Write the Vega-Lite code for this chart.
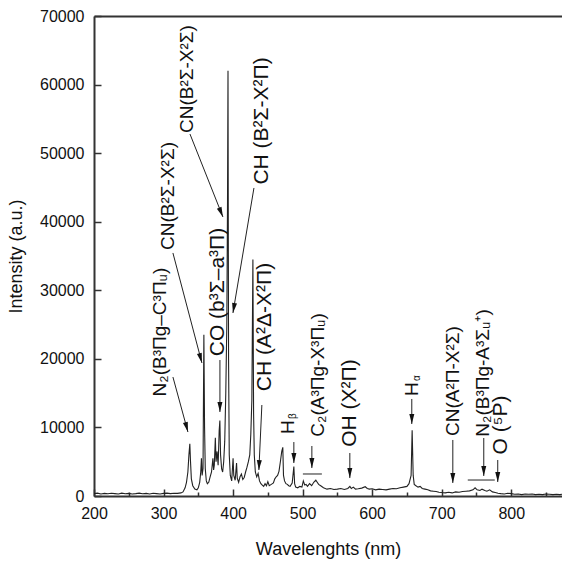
{
  "$schema": "https://vega.github.io/schema/vega-lite/v6.json",
  "autosize": "none",
  "width": 468,
  "height": 480,
  "padding": {"left": 94, "top": 16, "right": 0, "bottom": 72},
  "background": "white",
  "config": {
    "view": {"stroke": null},
    "font": "Liberation Sans",
    "axis": {"grid": false, "labelFont": "Liberation Sans", "titleFont": "Liberation Sans", "labelColor": "#111", "titleColor": "#111", "domainColor": "#333", "tickColor": "#333", "domainWidth": 2, "tickWidth": 1.5}
  },
  "datasets": {
    "spectrum": [
      {"wl":200,"I":350},{"wl":205,"I":420},{"wl":210,"I":300},{"wl":215,"I":380},{"wl":220,"I":320},{"wl":225,"I":400},{"wl":230,"I":350},{"wl":235,"I":300},{"wl":240,"I":420},{"wl":245,"I":330},{"wl":250,"I":380},{"wl":255,"I":300},{"wl":260,"I":350},{"wl":265,"I":420},{"wl":270,"I":330},{"wl":275,"I":380},{"wl":280,"I":300},{"wl":285,"I":400},{"wl":290,"I":350},{"wl":295,"I":300},{"wl":300,"I":380},{"wl":305,"I":420},{"wl":310,"I":350},{"wl":315,"I":400},{"wl":320,"I":380},{"wl":325,"I":450},{"wl":328,"I":600},{"wl":331,"I":1200},{"wl":333,"I":2000},{"wl":335,"I":3500},{"wl":336.5,"I":6000},{"wl":337.8,"I":7600},{"wl":338.8,"I":5000},{"wl":340,"I":2500},{"wl":342,"I":1500},{"wl":345,"I":1000},{"wl":348,"I":900},{"wl":350,"I":1200},{"wl":352,"I":2000},{"wl":353.5,"I":3500},{"wl":354.5,"I":5500},{"wl":355.5,"I":3000},{"wl":356.8,"I":4000},{"wl":358,"I":23500},{"wl":359,"I":10000},{"wl":360,"I":4000},{"wl":361.5,"I":2200},{"wl":363,"I":1800},{"wl":365,"I":2000},{"wl":367,"I":2800},{"wl":369,"I":3500},{"wl":371,"I":5500},{"wl":372,"I":3800},{"wl":373,"I":4500},{"wl":374.5,"I":8500},{"wl":375.5,"I":5000},{"wl":377,"I":6500},{"wl":378.5,"I":4500},{"wl":380,"I":9500},{"wl":381,"I":11000},{"wl":382,"I":6000},{"wl":383.5,"I":4000},{"wl":385,"I":3500},{"wl":386.5,"I":5000},{"wl":388,"I":8000},{"wl":389.5,"I":15000},{"wl":391,"I":25000},{"wl":392,"I":43000},{"wl":392.7,"I":62000},{"wl":393.5,"I":20000},{"wl":394.5,"I":6000},{"wl":396,"I":3000},{"wl":398,"I":2200},{"wl":400,"I":5500},{"wl":401,"I":3000},{"wl":403,"I":2300},{"wl":405,"I":4800},{"wl":406,"I":2600},{"wl":408,"I":2000},{"wl":410,"I":2800},{"wl":412,"I":3200},{"wl":414,"I":2400},{"wl":416,"I":2700},{"wl":418,"I":3500},{"wl":420,"I":4200},{"wl":422,"I":5000},{"wl":424,"I":6000},{"wl":425.5,"I":9000},{"wl":427,"I":14000},{"wl":428.5,"I":34500},{"wl":429.5,"I":12000},{"wl":430.5,"I":6000},{"wl":432,"I":3500},{"wl":434,"I":2800},{"wl":436,"I":3300},{"wl":438,"I":2200},{"wl":440,"I":1800},{"wl":442,"I":1600},{"wl":444,"I":1400},{"wl":446,"I":1800},{"wl":448,"I":1500},{"wl":450,"I":2100},{"wl":452,"I":1500},{"wl":455,"I":1700},{"wl":458,"I":1900},{"wl":460,"I":2500},{"wl":462,"I":2800},{"wl":464,"I":3000},{"wl":466,"I":3600},{"wl":468,"I":5000},{"wl":470,"I":6500},{"wl":471.5,"I":7100},{"wl":472.5,"I":3000},{"wl":474,"I":2200},{"wl":476,"I":1800},{"wl":478,"I":1700},{"wl":480,"I":1500},{"wl":482,"I":1400},{"wl":485,"I":1900},{"wl":487.4,"I":4300},{"wl":488.5,"I":1800},{"wl":490,"I":1300},{"wl":493,"I":1200},{"wl":496,"I":1400},{"wl":499,"I":1300},{"wl":501,"I":2200},{"wl":503,"I":1600},{"wl":505,"I":1700},{"wl":507,"I":1400},{"wl":510,"I":1800},{"wl":513,"I":1500},{"wl":516,"I":2000},{"wl":519,"I":2300},{"wl":521,"I":2000},{"wl":523,"I":1700},{"wl":526,"I":1500},{"wl":530,"I":1200},{"wl":535,"I":1000},{"wl":540,"I":1100},{"wl":545,"I":950},{"wl":550,"I":1000},{"wl":555,"I":1100},{"wl":560,"I":950},{"wl":565,"I":1100},{"wl":568,"I":1400},{"wl":570,"I":1100},{"wl":573,"I":1300},{"wl":576,"I":1000},{"wl":580,"I":1050},{"wl":585,"I":1150},{"wl":590,"I":1350},{"wl":593,"I":1100},{"wl":596,"I":1000},{"wl":600,"I":1050},{"wl":605,"I":900},{"wl":610,"I":1000},{"wl":615,"I":950},{"wl":620,"I":900},{"wl":625,"I":1000},{"wl":630,"I":1100},{"wl":635,"I":1050},{"wl":640,"I":1200},{"wl":645,"I":1300},{"wl":650,"I":1400},{"wl":653,"I":1800},{"wl":656,"I":3000},{"wl":657.5,"I":9600},{"wl":659,"I":3000},{"wl":660.5,"I":1700},{"wl":663,"I":1500},{"wl":666,"I":1300},{"wl":669,"I":1400},{"wl":672,"I":1100},{"wl":676,"I":1000},{"wl":680,"I":900},{"wl":684,"I":750},{"wl":688,"I":700},{"wl":692,"I":650},{"wl":696,"I":550},{"wl":700,"I":500},{"wl":705,"I":450},{"wl":710,"I":550},{"wl":715,"I":450},{"wl":720,"I":600},{"wl":725,"I":550},{"wl":730,"I":650},{"wl":735,"I":700},{"wl":740,"I":750},{"wl":745,"I":900},{"wl":748,"I":1200},{"wl":751,"I":900},{"wl":755,"I":800},{"wl":758,"I":1000},{"wl":762,"I":800},{"wl":765,"I":700},{"wl":769,"I":900},{"wl":773,"I":600},{"wl":777,"I":500},{"wl":781,"I":400},{"wl":785,"I":350},{"wl":790,"I":300},{"wl":795,"I":400},{"wl":800,"I":350},{"wl":805,"I":250},{"wl":810,"I":300},{"wl":815,"I":200},{"wl":820,"I":300},{"wl":825,"I":250},{"wl":830,"I":300},{"wl":835,"I":200},{"wl":840,"I":250},{"wl":845,"I":200},{"wl":850,"I":300},{"wl":855,"I":250},{"wl":860,"I":200},{"wl":865,"I":250},{"wl":870,"I":200},{"wl":873,"I":250}
    ],
    "ann": [
      {"id":"n2c","label":"N₂(B³Πg–C³Πᵤ)","tx":294.9,"ty":23900,"x1":313.5,"y1":17350,"x2":335.1,"y2":9330},
      {"id":"cn1","label":"CN(B²Σ-X²Σ)","tx":306.4,"ty":43750,"x1":313.5,"y1":35440,"x2":355.2,"y2":19400},
      {"id":"cn2","label":"CN(B²Σ-X²Σ)","tx":333.7,"ty":60810,"x1":338,"y1":52790,"x2":385.4,"y2":40690},
      {"id":"co","label":"CO (b³Σ–a³Π)","tx":378.2,"ty":29750,"x1":381.1,"y1":19830,"x2":381.1,"y2":12250},
      {"id":"chb","label":"CH (B²Σ-X²Π)","tx":441.4,"ty":54690,"x1":430,"y1":44920,"x2":399.8,"y2":26690},
      {"id":"cha","label":"CH (A²Δ-X²Π)","tx":445.8,"ty":24650,"x1":441.4,"y1":13270,"x2":437.1,"y2":3790},
      {"id":"hb","label":"H","sub":"β","tx":478.8,"ty":10060,"x1":487.4,"y1":7870,"x2":487.4,"y2":4810},
      {"id":"c2","label":"C₂(A³Πg-X³Πᵤ)","tx":521.9,"ty":17650,"x1":513.3,"y1":7290,"x2":513.3,"y2":4080},
      {"id":"oh","label":"OH (X²Π)","tx":567.9,"ty":13560,"x1":567.9,"y1":6270,"x2":567.9,"y2":2620},
      {"id":"ha","label":"H","sub":"α","tx":657,"ty":15600,"x1":657,"y1":14150,"x2":657,"y2":10500},
      {"id":"cna","label":"CN(A²Π-X²Σ)","tx":716,"ty":16770,"x1":716,"y1":8170,"x2":716,"y2":1900},
      {"id":"n2a","label":"N₂(B³Πg-A³Σᵤ⁺)","tx":759,"ty":17940,"x1":760.5,"y1":8460,"x2":760.5,"y2":2920},
      {"id":"o","label":"O (⁵P)","tx":785,"ty":10350,"x1":780.6,"y1":5250,"x2":780.6,"y2":2040}
    ],
    "bars": [
      {"a":500.4,"b":527.7,"y":3210},
      {"a":737.5,"b":776.3,"y":2330}
    ]
  },
  "resolve": {"axis": {"x": "independent"}},
  "layer": [
    {
      "data": {"name": "spectrum"},
      "mark": {"type": "line", "color": "#222", "strokeWidth": 1.1},
      "encoding": {
        "x": {"field": "wl", "type": "quantitative", "scale": {"domain": [200, 873], "nice": false, "zero": false},
          "axis": {"title": "Wavelenghts (nm)", "titleFontSize": 18, "titleFontWeight": "normal", "titlePadding": 16,
            "values": [200,250,300,350,400,450,500,550,600,650,700,750,800,850],
            "labelExpr": "datum.value % 100 === 0 ? datum.label : ''",
            "labelFontSize": 16, "labelPadding": 16, "labelFlush": false, "labelOverlap": false,
            "tickSize": {"condition": {"test": "datum.value % 100 === 0", "value": -7}, "value": -4}}},
        "y": {"field": "I", "type": "quantitative", "scale": {"domain": [0, 70000], "nice": false},
          "axis": {"title": "Intensity (a.u.)", "titleFontSize": 18, "titleFontWeight": "normal", "titlePadding": 14,
            "values": [0,5000,10000,15000,20000,25000,30000,35000,40000,45000,50000,55000,60000,65000,70000],
            "format": "d",
            "labelExpr": "datum.value % 10000 === 0 ? datum.label : ''",
            "labelFontSize": 16, "labelPadding": 17, "labelOverlap": false,
            "tickSize": {"condition": {"test": "datum.value % 10000 === 0", "value": -7}, "value": -4}}}
      }
    },
    {
      "data": {"name": "bars"},
      "mark": {"type": "rule", "color": "#222", "strokeWidth": 1},
      "encoding": {
        "x": {"field": "a", "type": "quantitative", "axis": {"orient": "top", "title": null, "labels": false, "ticks": false, "domain": true, "domainWidth": 2, "domainColor": "#333"}},
        "x2": {"field": "b"},
        "y": {"field": "y", "type": "quantitative"}
      }
    },
    {
      "data": {"name": "ann"},
      "mark": {"type": "rule", "color": "#222", "strokeWidth": 1},
      "encoding": {
        "x": {"field": "x1", "type": "quantitative", "axis": null},
        "y": {"field": "y1", "type": "quantitative"},
        "x2": {"field": "x2"},
        "y2": {"field": "y2"}
      }
    },
    {
      "data": {"name": "ann"},
      "transform": [{"filter": {"field": "id", "oneOf": ["co","hb","c2","oh","ha","cna","n2a","o"]}}],
      "mark": {"type": "point", "shape": "M-0.5,-2L0.5,-2L0,0Z", "filled": true, "size": 100, "color": "#111", "opacity": 1},
      "encoding": {
        "x": {"field": "x2", "type": "quantitative", "axis": null},
        "y": {"field": "y2", "type": "quantitative"}
      }
    },
    {
      "data": {"name": "ann"},
      "transform": [{"filter": {"field": "id", "oneOf": ["n2c","cn1"]}}],
      "mark": {"type": "point", "shape": "M-0.5,-2L0.5,-2L0,0Z", "filled": true, "size": 100, "color": "#111", "opacity": 1, "angle": -15},
      "encoding": {
        "x": {"field": "x2", "type": "quantitative", "axis": null},
        "y": {"field": "y2", "type": "quantitative"}
      }
    },
    {
      "data": {"name": "ann"},
      "transform": [{"filter": {"field": "id", "equal": "cn2"}}],
      "mark": {"type": "point", "shape": "M-0.5,-2L0.5,-2L0,0Z", "filled": true, "size": 100, "color": "#111", "opacity": 1, "angle": -22},
      "encoding": {
        "x": {"field": "x2", "type": "quantitative", "axis": null},
        "y": {"field": "y2", "type": "quantitative"}
      }
    },
    {
      "data": {"name": "ann"},
      "transform": [{"filter": {"field": "id", "equal": "chb"}}],
      "mark": {"type": "point", "shape": "M-0.5,-2L0.5,-2L0,0Z", "filled": true, "size": 100, "color": "#111", "opacity": 1, "angle": 9.5},
      "encoding": {
        "x": {"field": "x2", "type": "quantitative", "axis": null},
        "y": {"field": "y2", "type": "quantitative"}
      }
    },
    {
      "data": {"name": "ann"},
      "transform": [{"filter": {"field": "id", "equal": "cha"}}],
      "mark": {"type": "point", "shape": "M-0.5,-2L0.5,-2L0,0Z", "filled": true, "size": 100, "color": "#111", "opacity": 1, "angle": 2.6},
      "encoding": {
        "x": {"field": "x2", "type": "quantitative", "axis": null},
        "y": {"field": "y2", "type": "quantitative"}
      }
    },
    {
      "data": {"name": "ann"},
      "transform": [{"filter": {"field": "id", "oneOf": ["n2c","cn1","cn2","hb","c2","ha","cna","n2a"]}}],
      "mark": {"type": "text", "angle": 270, "align": "center", "baseline": "middle", "fontSize": 19, "font": "Liberation Sans", "color": "#111"},
      "encoding": {
        "x": {"field": "tx", "type": "quantitative", "axis": null},
        "y": {"field": "ty", "type": "quantitative"},
        "text": {"field": "label"}
      }
    },
    {
      "data": {"name": "ann"},
      "transform": [{"filter": {"field": "id", "oneOf": ["co","oh","chb","cha","o"]}}],
      "mark": {"type": "text", "angle": 270, "align": "center", "baseline": "middle", "fontSize": 21, "font": "Liberation Sans", "color": "#111"},
      "encoding": {
        "x": {"field": "tx", "type": "quantitative", "axis": null},
        "y": {"field": "ty", "type": "quantitative"},
        "text": {"field": "label"}
      }
    },
    {
      "data": {"name": "ann"},
      "transform": [{"filter": {"field": "id", "oneOf": ["hb","ha"]}}],
      "mark": {"type": "text", "angle": 270, "align": "left", "baseline": "middle", "fontSize": 10, "font": "Liberation Sans", "color": "#111", "dx": 8, "dy": 5},
      "encoding": {
        "x": {"field": "tx", "type": "quantitative", "axis": null},
        "y": {"field": "ty", "type": "quantitative"},
        "text": {"field": "sub"}
      }
    }
  ]
}
